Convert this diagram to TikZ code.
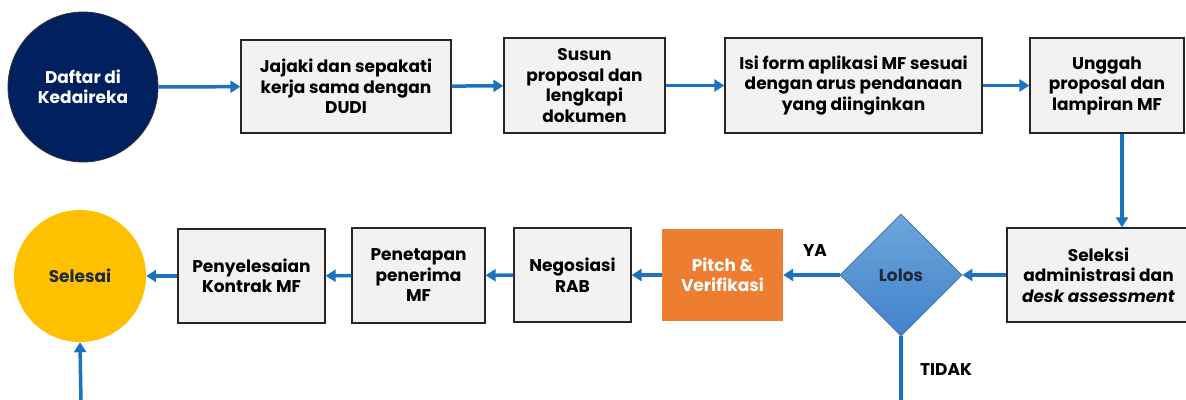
\documentclass[tikz,border=0pt]{standalone}
\usepackage{fontspec}
\setmainfont{Poppins}
\usetikzlibrary{arrows.meta,shapes.geometric}
\definecolor{arrowblue}{HTML}{1B72C0}
\definecolor{boxfill}{HTML}{F2F2F2}
\definecolor{boxline}{HTML}{262626}
\definecolor{navy}{HTML}{002060}
\definecolor{gold}{HTML}{FFC000}
\definecolor{orangebox}{HTML}{ED7D31}
\definecolor{dtop}{HTML}{6EA6DC}
\definecolor{dbot}{HTML}{4281CA}
\definecolor{dline}{HTML}{41719C}
\definecolor{darktext}{HTML}{1F2A3A}
\tikzset{
  every node/.style={font=\fontsize{17}{20.5}\selectfont\bfseries, align=center},
  stepbox/.style={draw=boxline, line width=1.3pt, fill=boxfill, inner sep=0pt, text=black},
  flow/.style={draw=arrowblue, line width=3.5pt, -{Triangle[length=10pt,width=12pt]}},
  flowline/.style={draw=arrowblue, line width=3.5pt},
  lbl/.style={font=\fontsize{17}{20}\selectfont\bfseries, text=black}
}
\begin{document}
\begin{tikzpicture}[x=1pt,y=-1pt]
\clip (0,0) rectangle (1186,399);
\fill[white] (0,0) rectangle (1186,399);
% top row
\node[circle, draw=black!80, line width=0.8pt, fill=navy, text=white, minimum size=150pt, inner sep=0pt] (daftar) at (83,87) {Daftar di\\Kedaireka};
\node[stepbox, minimum width=210pt, minimum height=93pt] (jajaki) at (346,86.5) {Jajaki dan sepakati\\kerja sama dengan\\DUDI};
\node[stepbox, minimum width=161pt, minimum height=95pt] (susun) at (584.5,85.5) {Susun\\proposal dan\\lengkapi\\dokumen};
\node[stepbox, minimum width=257pt, minimum height=95pt] (isi) at (853.5,85.5) {Isi form aplikasi MF sesuai\\dengan arus pendanaan\\yang diinginkan};
\node[stepbox, minimum width=154pt, minimum height=95pt] (unggah) at (1107,85.5) {Unggah\\proposal dan\\lampiran MF};
% bottom row
\node[stepbox, minimum width=183pt, minimum height=94pt] (seleksi) at (1098.5,275) {Seleksi\\administrasi dan\\\textit{desk assessment}};
\node[diamond, aspect=1, draw=dline, line width=0.8pt, top color=dtop, bottom color=dbot, minimum width=122pt, minimum height=122pt, inner sep=0pt, text=darktext] (lolos) at (901,275) {Lolos};
\node[fill=orangebox, minimum width=121pt, minimum height=92pt, inner sep=0pt, text=white] (pitch) at (722.5,275) {Pitch \&\\Verifikasi};
\node[stepbox, minimum width=117pt, minimum height=94pt] (nego) at (572.5,275) {Negosiasi\\RAB};
\node[stepbox, minimum width=133pt, minimum height=95pt] (tetap) at (418.5,275.5) {Penetapan\\penerima\\MF};
\node[stepbox, minimum width=147pt, minimum height=94pt] (selesaikan) at (251.5,276) {Penyelesaian\\Kontrak MF};
\node[circle, fill=gold, minimum size=132pt, inner sep=0pt, text=darktext] (selesai) at (80,276) {Selesai};
% labels
\node[lbl] (ya) at (815,251) {YA};
\node[lbl] (tidak) at (946,370) {TIDAK};
\coordinate (tidakend) at (901,405);
\coordinate (selesaiin) at (81,405);
% connectors
\draw[flow] (daftar) -- (jajaki);
\draw[flow] (jajaki) -- (susun);
\draw[flow] (susun) -- (isi);
\draw[flow] (isi) -- (unggah);
\draw[flow] (unggah.south -| 1122,0) -- (seleksi.north -| 1122,0);
\draw[flow] (seleksi) -- (lolos);
\draw[flow] (lolos) -- (pitch);
\draw[flow] (pitch) -- (nego);
\draw[flow] (nego) -- (tetap);
\draw[flow] (tetap) -- (selesaikan);
\draw[flow] (selesaikan) -- (selesai);
\draw[flowline] (lolos.south) -- (tidakend);
\draw[flow] (selesaiin) -- (selesai.south);
\end{tikzpicture}
\end{document}
